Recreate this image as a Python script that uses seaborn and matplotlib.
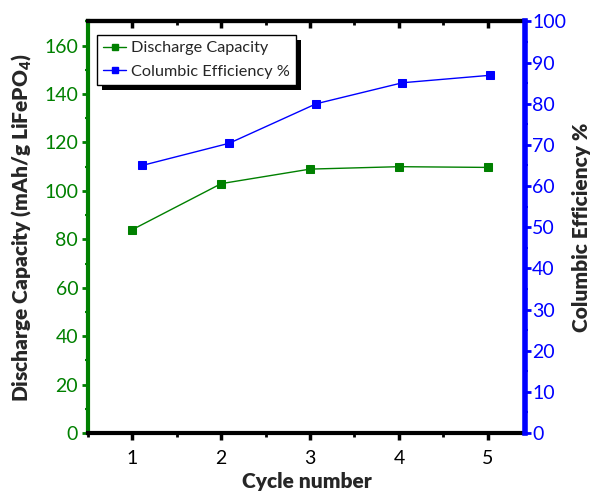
import matplotlib
matplotlib.use('Agg')
import matplotlib.pyplot as plt
import seaborn as sns
from matplotlib.ticker import MultipleLocator
from matplotlib.patches import Rectangle
from matplotlib.lines import Line2D

# ---- data ----
cycles = [1, 2, 3, 4, 5]
capacity = [84.0, 103.0, 109.0, 110.0, 109.7]
eff_cycles = [1.11, 2.09, 3.07, 4.04, 5.02]
efficiency = [65.0, 70.4, 80.0, 85.1, 86.9]
x_ticks = [1, 2, 3, 4, 5]

GREEN = '#008000'
BLUE = '#0000FF'

sns.set_style('white')
plt.rcParams['font.family'] = ['Lato', 'DejaVu Sans']
plt.rcParams['mathtext.fontset'] = 'custom'
plt.rcParams['mathtext.rm'] = 'Lato'
plt.rcParams['mathtext.bf'] = 'Lato:heavy'

fig = plt.figure(figsize=(5.9, 4.98), dpi=100)
ax = fig.add_axes([0.149, 0.1305, 0.741, 0.8265])

sns.lineplot(x=cycles, y=capacity, ax=ax, color=GREEN, marker='s', markersize=6,
             markeredgecolor=GREEN, linewidth=1, legend=False)
ax2 = ax.twinx()
sns.lineplot(x=eff_cycles, y=efficiency, ax=ax2, color=BLUE, marker='s', markersize=6,
             markeredgecolor=BLUE, linewidth=1, legend=False)

ax.set_xlim(0.5, 5.42)
ax.set_ylim(0, 170)
ax2.set_ylim(0, 100)

ax.set_xticks(x_ticks)
ax.xaxis.set_minor_locator(MultipleLocator(0.5))
ax.yaxis.set_major_locator(MultipleLocator(20))
ax.yaxis.set_minor_locator(MultipleLocator(10))
ax2.yaxis.set_major_locator(MultipleLocator(10))
ax2.yaxis.set_minor_locator(MultipleLocator(5))

TL = 14
ax.tick_params(axis='x', which='major', direction='out', length=5, width=2.5,
               colors='black', labelsize=TL, pad=7, bottom=True)
ax.tick_params(axis='x', which='minor', direction='out', length=3, width=2,
               colors='black', bottom=True)
ax.tick_params(axis='y', which='major', direction='out', length=4, width=2,
               color=GREEN, labelcolor=GREEN, labelsize=TL, pad=3, left=True)
ax.tick_params(axis='y', which='minor', direction='out', length=2, width=1.5,
               color=GREEN, left=True)
ax2.tick_params(axis='y', which='major', direction='out', length=4, width=2,
                color=BLUE, labelcolor=BLUE, labelsize=TL, pad=1, right=True)
ax2.tick_params(axis='y', which='minor', direction='out', length=2, width=1.5,
                color=BLUE, right=True)

# top axis with inward ticks
sec = ax.secondary_xaxis('top')
sec.set_xticks(x_ticks)
sec.xaxis.set_minor_locator(MultipleLocator(0.5))
sec.tick_params(axis='x', which='major', direction='in', length=5, width=2.5,
                labeltop=False, colors='black')
sec.tick_params(axis='x', which='minor', direction='in', length=3, width=2, colors='black')
sec.spines['top'].set_linewidth(3)
sec.spines['top'].set_color('black')

for s in ['top', 'bottom']:
    ax.spines[s].set_linewidth(3)
    ax.spines[s].set_color('black')
ax.spines['left'].set_linewidth(3)
ax.spines['left'].set_color(GREEN)
ax.spines['right'].set_visible(False)
ax2.spines['right'].set_linewidth(4)
ax2.spines['right'].set_color(BLUE)
for s in ['left', 'top', 'bottom']:
    ax2.spines[s].set_visible(False)

LF = 15
ax.set_xlabel('Cycle number', fontsize=LF, fontweight='heavy', labelpad=4)
ax.set_ylabel('Discharge Capacity (mAh/g LiFePO$_{\\mathbf{4}}$)', fontsize=LF,
              fontweight='heavy', labelpad=7)
ax2.set_ylabel('Columbic Efficiency %', fontsize=LF, fontweight='heavy', labelpad=4)

handles = [
    Line2D([], [], color=GREEN, marker='s', markersize=5, linewidth=1),
    Line2D([], [], color=BLUE, marker='s', markersize=5, linewidth=1),
]
leg = ax2.legend(handles, ['Discharge Capacity', 'Columbic Efficiency %'],
                 loc='upper left', bbox_to_anchor=(0.02, 0.968), borderaxespad=0,
                 fontsize=11.7, fancybox=False, framealpha=1, edgecolor='black',
                 handlelength=1.4, handletextpad=0.3, borderpad=0.4, labelspacing=0.55)
leg.get_frame().set_linewidth(1)
leg.set_zorder(10)

fig.canvas.draw()
bb = leg.get_window_extent()
shadow = Rectangle((bb.x0 + 5, bb.y0 - 5), bb.width, bb.height, transform=None,
                   facecolor='black', edgecolor='none', zorder=9)
ax2.add_artist(shadow)

fig.savefig('out.png', dpi=100)
